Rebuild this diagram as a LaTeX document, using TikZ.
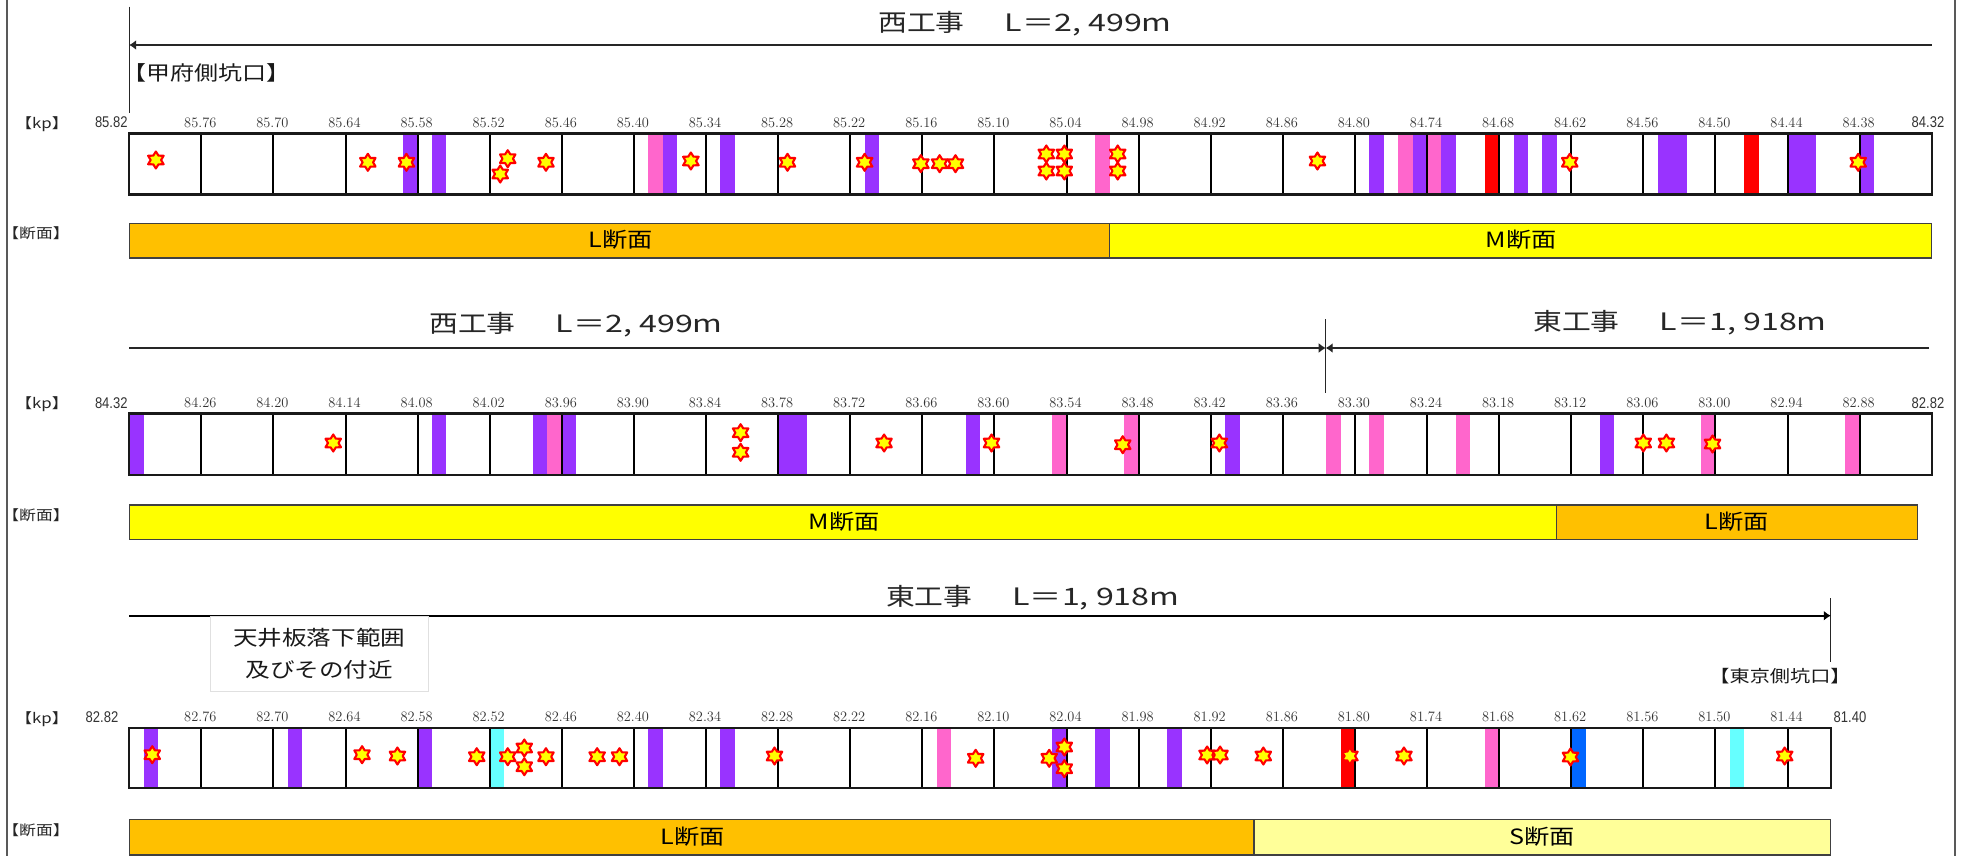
\documentclass[tikz,border=0pt]{standalone}
\usepackage{fontspec}
\usetikzlibrary{shapes.geometric,arrows.meta}
\newfontfamily\jpf[FakeStretch=1.2]{Noto Sans CJK JP}
\newfontfamily\jpw[FakeStretch=1.34]{Noto Sans CJK JP}
\newfontfamily\tkf[FakeStretch=0.84]{Liberation Sans}
\definecolor{pur}{HTML}{9933FF}
\definecolor{pnk}{HTML}{FF66CC}
\definecolor{rd}{HTML}{FF0000}
\definecolor{cy}{HTML}{66FFFF}
\definecolor{bl}{HTML}{0066FF}
\definecolor{org}{HTML}{FFC000}
\definecolor{yel}{HTML}{FFFF00}
\definecolor{lyel}{HTML}{FFFF99}
\newcommand\xo{129.2}
\newcommand\cw{72.1}
\newcommand\ttl[2]{{\jpf #1}\hspace{40pt}{\jpw #2}}
\tikzset{
  starmark/.style={star,star points=6,star point ratio=1.7,minimum size=17pt,inner sep=0pt,outer sep=0pt,
    draw=rd,fill=yel,line width=2.1pt,line join=round,xscale=1.05,transform shape},
  ticklab/.style={font=\tkf\fontsize{15.5}{15.5}\selectfont,text=black!80,inner sep=0pt,anchor=center},
  sidelab/.style={font=\jpf\fontsize{14}{14}\selectfont,inner sep=0pt,anchor=center,text=black!85},
  title/.style={font=\fontsize{24}{24}\selectfont,inner sep=0pt,anchor=center,text=black!85},
  portal/.style={font=\jpf\fontsize{20}{20}\selectfont,inner sep=0pt,anchor=center,text=black!90},
  portalb/.style={font=\jpf\fontsize{16.8}{16.8}\selectfont,inner sep=0pt,anchor=center,text=black!90},
  barlab/.style={font=\jpf\fontsize{21}{21}\selectfont,inner sep=0pt,anchor=center,text=black},
  seclab/.style={draw=black!75,line width=1.2pt},
  cell/.style={draw=black,line width=2pt},
  frame/.style={draw=black!90,line width=2.3pt},
  dim/.style={draw=black!85,line width=1.3pt,-{Latex[length=7pt,width=10pt]}},
  endline/.style={draw=black!85,line width=1.2pt},
  notebox/.style={draw=black!12,line width=1pt,fill=white,minimum width=218pt,minimum height=75pt,inner sep=0pt,
    align=center,font=\jpf\fontsize{20.5}{32}\selectfont,text=black!90}
}
% #1 top, #2 bottom, #3 number of full cells, #4 right end in cells, #5 first km, #6 band list
\newcommand\striprow[6]{%
  \foreach \a/\b/\c in {#6}{\fill[\c] ({\xo+\a*\cw},#1) rectangle ({\xo+\b*\cw},#2);}
  \foreach \u in {1,...,#3}{\draw[cell] ({\xo+\u*\cw},#1) -- ({\xo+\u*\cw},#2);}
  \draw[frame] (\xo,#1) rectangle ({\xo+#4*\cw},#2);
  \foreach \u in {1,...,#3}{%
    \pgfmathsetmacro\km{#5-0.06*\u}
    \node[ticklab] at ({\xo+\u*\cw-1},#1-11) {\pgfmathprintnumber[fixed,fixed zerofill,precision=2]{\km}};
  }
}
\begin{document}
\begin{tikzpicture}[x=1pt,y=-1pt]
\useasboundingbox (0,0) rectangle (1961,856);
\fill[white] (0,0) rectangle (1961,856);
\draw[black!65,line width=1.6pt] (6.7,0) -- (6.7,856);
\draw[black!65,line width=1.6pt] (1955,0) -- (1955,856);

% ---------- row 1
\node[title] (t1) at (1025,23.5) {\ttl{西工事}{L＝2, 499m}};
\coordinate (a1l) at (129.2,45);
\coordinate (a1r) at (1931.7,45);
\coordinate (v1t) at (129.2,6.7);
\coordinate (v1b) at (129.2,112.7);
\draw[endline] (v1t) -- (v1b);
\draw[dim] (a1r) -- (a1l);
\node[portal] (p1) at (206,73) {【甲府側坑口】};
\node[sidelab] (k1) at (42,124) {【kp】};
\node[sidelab] (d1) at (36,233) {【断面】};
\striprow{133.5}{194.5}{24}{25}{85.82}{3.8/4/pur,4.2/4.4/pur,7.2/7.4/pnk,7.4/7.6/pur,8.2/8.4/pur,10.2/10.4/pur,13.4/13.6/pnk,17.2/17.4/pur,17.6/17.8/pnk,17.8/18/pur,18/18.2/pnk,18.2/18.4/pur,18.8/19/rd,19.2/19.4/pur,19.6/19.8/pur,21.2/21.6/pur,22.4/22.6/rd,23/23.4/pur,24/24.2/pur}
\node[ticklab] (l1a) at (111.3,122.5) {85.82};
\node[ticklab] (l1b) at (1928,122.5) {84.32};
\foreach \u/\y [count=\i] in {.37/160,3.31/162.3,3.845/162.3,5.25/158.7,5.146/174,5.78/162.3,7.79/161,9.13/162.3,10.2/162.3,10.98/163.7,11.24/163.7,11.46/163.7,12.72/154,12.97/154,12.72/171,12.97/171,13.71/154,13.71/171,16.48/161,19.98/162.3,23.98/162.3}
  \node[starmark] (s1n\i) at ({\xo+\u*\cw},\y) {};
\draw[seclab,fill=org] (129.2,223.5) rectangle ({\xo+13.6*\cw},258);
\draw[seclab,fill=yel] ({\xo+13.6*\cw},223.5) rectangle ({\xo+25*\cw},258);
\node[barlab] (b1a) at (621,240) {L断面};
\node[barlab] (b1b) at (1521,240) {M断面};

% ---------- row 2
\node[title] (t2a) at (576,325) {\ttl{西工事}{L＝2, 499m}};
\node[title] (t2b) at (1680,323) {\ttl{東工事}{L＝1, 918m}};
\coordinate (a2l) at (129.2,348);
\coordinate (a2m) at (1325.7,348);
\coordinate (a2r) at (1929,348);
\coordinate (v2t) at (1325.7,319);
\coordinate (v2b) at (1325.7,393);
\draw[endline] (v2t) -- (v2b);
\draw[dim] (a2l) -- (a2m);
\draw[dim] (a2r) -- (a2m);
\node[sidelab] (k2) at (42,404) {【kp】};
\node[sidelab] (d2) at (36,515) {【断面】};
\striprow{413.5}{475}{24}{25}{84.32}{0/.2/pur,4.2/4.4/pur,5.6/5.8/pur,5.8/6/pnk,6/6.2/pur,9/9.4/pur,11.6/11.8/pur,12.8/13/pnk,13.8/14/pnk,15.2/15.4/pur,16.6/16.8/pnk,17.2/17.4/pnk,18.4/18.6/pnk,20.4/20.6/pur,21.8/22/pnk,23.8/24/pnk}
\node[ticklab] (l2a) at (111.3,402.7) {84.32};
\node[ticklab] (l2b) at (1928,402.7) {82.82};
\foreach \u/\y [count=\i] in {2.83/443,8.48/432.7,8.48/452.3,10.47/443,11.96/443,13.78/444.7,15.12/443,21/443,21.32/443,21.96/444}
  \node[starmark] (s2n\i) at ({\xo+\u*\cw},\y) {};
\draw[seclab,fill=yel] (129.2,505) rectangle ({\xo+19.8*\cw},539.5);
\draw[seclab,fill=org] ({\xo+19.8*\cw},505) rectangle ({\xo+24.8*\cw},539.5);
\node[barlab] (b2a) at (844,522) {M断面};
\node[barlab] (b2b) at (1737,522) {L断面};

% ---------- row 3
\node[title] (t3) at (1032.7,597.7) {\ttl{東工事}{L＝1, 918m}};
\coordinate (a3l) at (129.2,615.7);
\coordinate (a3r) at ({\xo+23.6*\cw},615.7);
\coordinate (v3t) at ({\xo+23.6*\cw},598);
\coordinate (v3b) at ({\xo+23.6*\cw},661.7);
\draw[endline] (v3t) -- (v3b);
\draw[dim,draw=black,line width=2pt] (a3l) -- (a3r);
\node[notebox] (nb) at (319.2,653.5) {天井板落下範囲\\及びその付近};
\node[portalb] (p3) at (1780,676) {【東京側坑口】};
\node[sidelab] (k3) at (42,718.7) {【kp】};
\node[sidelab] (d3) at (36,830) {【断面】};
\striprow{728}{788}{23}{23.6}{82.82}{.2/.4/pur,2.2/2.4/pur,4/4.2/pur,5/5.2/cy,7.2/7.4/pur,8.2/8.4/pur,11.2/11.4/pnk,12.8/13/pur,13.4/13.6/pur,14.4/14.6/pur,16.8/17/rd,18.8/19/pnk,20/20.2/bl,22.2/22.4/cy}
\node[ticklab] (l3a) at (102,717.3) {82.82};
\node[ticklab] (l3b) at (1850,717.3) {81.40};
\foreach \u/\y [count=\i] in {.32/754.7,3.23/754.7,3.72/756,4.82/756.7,5.25/756.7,5.48/748,5.48/766.7,5.78/756.7,6.49/756.7,6.8/756.7,8.95/756,11.74/758.3,12.76/758.3,12.97/747,12.97/768.7,14.95/755,15.13/755,15.73/756,16.93/756,17.68/756,19.99/757,22.96/756}
  \node[starmark] (s3n\i) at ({\xo+\u*\cw},\y) {};
\draw[seclab,fill=org] (129.2,819.5) rectangle ({\xo+15.6*\cw},855);
\draw[seclab,fill=lyel] ({\xo+15.6*\cw},819.5) rectangle ({\xo+23.6*\cw},855);
\node[barlab] (b3a) at (693,837) {L断面};
\node[barlab] (b3b) at (1542,837) {S断面};
\end{tikzpicture}
\end{document}
